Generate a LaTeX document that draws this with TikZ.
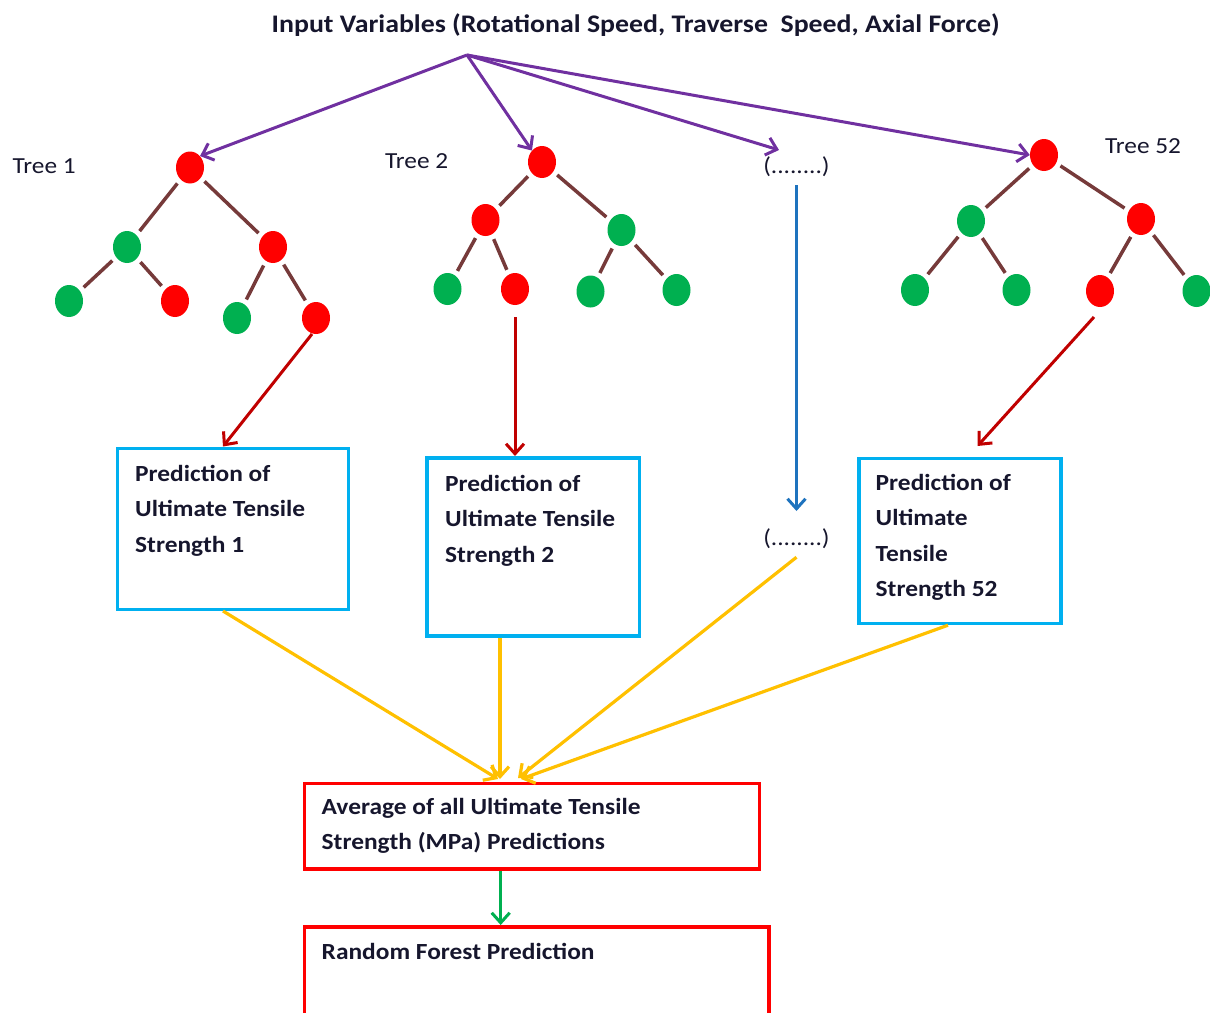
\documentclass[tikz,border=0pt]{standalone}
\usepackage{fontspec}
\setmainfont[FakeStretch=1.1]{Carlito}
\usetikzlibrary{arrows.meta,shapes.geometric}
\definecolor{nred}{RGB}{255,0,0}
\definecolor{ngreen}{RGB}{0,176,80}
\definecolor{ebrown}{RGB}{118,58,58}
\definecolor{purp}{RGB}{112,48,160}
\definecolor{dred}{RGB}{192,0,0}
\definecolor{bluea}{RGB}{30,115,190}
\definecolor{yel}{RGB}{255,192,0}
\definecolor{garrow}{RGB}{0,176,80}
\definecolor{cyanb}{RGB}{0,176,240}
\definecolor{redb}{RGB}{255,0,0}
\definecolor{tcol}{RGB}{22,22,45}
\tikzset{
  leaf/.style={ellipse, minimum width=28pt, minimum height=32pt, inner sep=0pt},
  rnode/.style={leaf, fill=nred},
  gnode/.style={leaf, fill=ngreen},
  edge/.style={draw=ebrown, line width=3.5pt, shorten <=5pt, shorten >=5pt},
  barb/.style={-{Straight Barb[length=10pt,width=18pt]}},
  parrow/.style={barb, draw=purp, line width=3pt},
  rarrow/.style={barb, draw=dred, line width=3pt},
  barrow/.style={barb, draw=bluea, line width=3pt},
  yarrow/.style={barb, draw=yel, line width=3.2pt},
  garr/.style={barb, draw=garrow, line width=3pt},
  cbox/.style={draw=cyanb, line width=3.5pt, inner sep=0pt},
  rbox/.style={draw=redb, line width=3.5pt, inner sep=0pt},
  btxt/.style={font=\fontsize{23.1}{35.5}\selectfont\bfseries, text=tcol, align=left, anchor=north west, inner sep=0pt},
  ttxt/.style={font=\fontsize{23}{28}\selectfont, text=tcol, anchor=base west, inner sep=0pt},
  dots/.style={font=\fontsize{23}{28}\selectfont, text=tcol, inner sep=0pt}
}
\begin{document}
\begin{tikzpicture}[x=1pt,y=-1pt]
\useasboundingbox (0,0) rectangle (1210,1012);

% title
\node[font=\fontsize{25.3}{30}\selectfont\bfseries, text=tcol, anchor=base west, inner sep=0pt] (title) at (271.5,32.7) {Input Variables (Rotational Speed, Traverse\ \ Speed, Axial Force)};
\coordinate (src) at (467,55);

% tree labels
\node[ttxt] (lab1) at (12.5,173.3) {Tree 1};
\node[ttxt] (lab2) at (385,168) {Tree 2};
\node[ttxt] (lab52) at (1105,153) {Tree 52};

% Tree 1
\node[rnode] (a0) at (190,167.5) {};
\node[gnode] (a1) at (127,247) {};
\node[rnode] (a2) at (273,247) {};
\node[gnode] (a3) at (69,301) {};
\node[rnode] (a4) at (175,301) {};
\node[gnode] (a5) at (237,318) {};
\node[rnode] (a6) at (316,318) {};
\draw[edge] (a0) -- (a1);
\draw[edge] (a0) -- (a2);
\draw[edge] (a1) -- (a3);
\draw[edge] (a1) -- (a4);
\draw[edge] (a2) -- (a5);
\draw[edge] (a2) -- (a6);

% Tree 2
\node[rnode] (b0) at (542,162) {};
\node[rnode] (b1) at (485.5,220) {};
\node[gnode] (b2) at (621.5,230) {};
\node[gnode] (b3) at (447.5,289) {};
\node[rnode] (b4) at (515,289) {};
\node[gnode] (b5) at (590.5,291.5) {};
\node[gnode] (b6) at (676.5,290) {};
\draw[edge] (b0) -- (b1);
\draw[edge] (b0) -- (b2);
\draw[edge] (b1) -- (b3);
\draw[edge] (b1) -- (b4);
\draw[edge] (b2) -- (b5);
\draw[edge] (b2) -- (b6);

% Tree 52
\node[rnode] (c0) at (1044,155) {};
\node[gnode] (c1) at (971,221) {};
\node[rnode] (c2) at (1141,219) {};
\node[gnode] (c3) at (915,290) {};
\node[gnode] (c4) at (1016.5,290) {};
\node[rnode] (c5) at (1100,291) {};
\node[gnode] (c6) at (1196.5,291) {};
\draw[edge] (c0) -- (c1);
\draw[edge] (c0) -- (c2);
\draw[edge] (c1) -- (c3);
\draw[edge] (c1) -- (c4);
\draw[edge] (c2) -- (c5);
\draw[edge] (c2) -- (c6);

% middle dots
\node[dots] (d1) at (796.5,167) {(........)};
\node[dots] (d2) at (796.5,539) {(........)};

% boxes
\node[cbox, anchor=north west, minimum width=231pt, minimum height=161pt] (box1) at (115.5,446.5) {};
\node[btxt] (t1) at (135,465) {Prediction of\\Ultimate Tensile\\Strength 1};
\node[cbox, anchor=north west, minimum width=212.5pt, minimum height=178pt] (box2) at (425,456) {};
\node[btxt] (t2) at (445,475) {Prediction of\\Ultimate Tensile\\Strength 2};
\node[cbox, anchor=north west, minimum width=202pt, minimum height=165pt] (box52) at (857,456.7) {};
\node[btxt] (t52) at (875.5,474) {Prediction of\\Ultimate\\Tensile\\Strength 52};
\node[rbox, anchor=north west, minimum width=455pt, minimum height=85.5pt] (avg) at (302.5,781.7) {};
\node[btxt] (tavg) at (321.5,798) {Average of all Ultimate Tensile\\Strength (MPa) Predictions};
\node[rbox, anchor=north west, minimum width=464.5pt, minimum height=88pt] (rf) at (302.7,925) {};
\node[btxt] (trf) at (321.5,943) {Random Forest Prediction};

% purple arrows
\draw[parrow] (src) -- (a0.north east);
\draw[parrow] (src) -- (b0.north west);
\draw[parrow] (src) -- (779,150) coordinate (dtip);
\draw[parrow] (src) -- (c0.west);

% tree to box arrows
\draw[rarrow] (a6) ++(-4,16) coordinate (a6s) -- (223,446.5) coordinate (box1tip);
\draw[rarrow] (b4.south) ++(0,12) coordinate (b4s) -- (box2.north -| b4s);
\draw[rarrow] (c5) ++(-6,26) coordinate (c5s) -- (977.5,446) coordinate (box52tip);
\draw[barrow] (d1.south) ++(0,8) coordinate (d1s) -- (d1s |- 0,511) coordinate (d2tip);

% yellow arrows
\draw[yarrow] (box1.south -| 223,0) -- (498,779);
\draw[yarrow] (box2.south -| 500,0) -- (500,779);
\draw[yarrow] (d2.south) ++(0,8) coordinate (d2s) -- (518,778);
\draw[yarrow] (box52.south -| 948,0) -- (521,779);

% green arrow
\draw[garr] (avg.south -| 500.7,0) -- (rf.north -| 500.7,0);
\end{tikzpicture}
\end{document}
